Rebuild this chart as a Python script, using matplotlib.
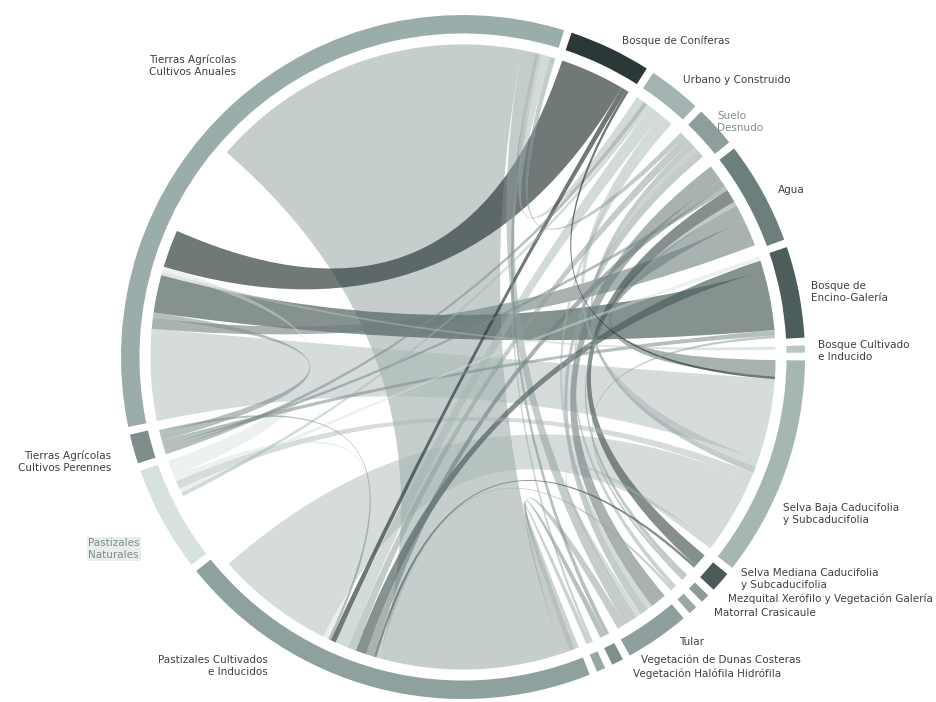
import numpy as np
import matplotlib
matplotlib.use("Agg")
import matplotlib.pyplot as plt
from matplotlib.path import Path
from matplotlib.patches import Wedge, PathPatch
from matplotlib.colors import to_rgb

# ---------------- data ----------------
keys = ["CON", "URB", "SUE", "AGU", "ENC", "BCU", "SBA", "SME", "MEZ",
        "MAT", "TUL", "DUN", "HAL", "PCU", "PNA", "PER", "ANU"]
labels = ["Bosque de Coníferas", "Urbano y Construido", "Suelo\nDesnudo", "Agua",
          "Bosque de\nEncino-Galería", "Bosque Cultivado\ne Inducido",
          "Selva Baja Caducifolia\ny Subcaducifolia",
          "Selva Mediana Caducifolia\ny Subcaducifolia",
          "Mezquital Xerófilo y Vegetación Galería", "Matorral Crasicaule", "Tular",
          "Vegetación de Dunas Costeras", "Vegetación Halófila Hidrófila",
          "Pastizales Cultivados\ne Inducidos", "Pastizales\nNaturales",
          "Tierras Agrícolas\nCultivos Perennes", "Tierras Agrícolas\nCultivos Anuales"]
totals = [14, 9, 7, 17.5, 15.5, 1.2, 37.5, 3.5, 1.5, 1.5, 11, 2, 1.5, 73, 18, 5, 119]

flow_src = ["CON", "CON", "CON", "URB", "PER", "URB", "URB", "URB", "URB", "SUE",
            "SUE", "MAT", "SUE", "AGU", "AGU", "AGU", "PER", "SME", "MEZ", "AGU",
            "PNA", "ENC", "ENC", "PER", "BCU", "SBA", "SBA", "SBA", "SBA", "SME",
            "MEZ", "MAT", "TUL", "TUL", "DUN", "DUN", "HAL", "HAL", "PCU", "PNA",
            "PNA", "PER", "PER", "SUE"]
flow_dst = ["ANU", "PCU", "SBA", "ANU", "URB", "PCU", "PNA", "SBA", "TUL", "ANU",
            "PCU", "SUE", "TUL", "TUL", "PCU", "ANU", "AGU", "AGU", "AGU", "SBA",
            "ENC", "PCU", "ANU", "ENC", "ANU", "ANU", "PNA", "PCU", "TUL", "PCU",
            "ENC", "PCU", "ANU", "PCU", "PCU", "ANU", "PCU", "ANU", "ANU", "PCU",
            "ANU", "ANU", "PCU", "SBA"]
value_src = [12, 1, 0.5, 1.5, 0.8, 2.5, 0.7, 1.5, 1, 1,
             1.5, 0.8, 1.5, 3, 1.5, 5, 0.8, 2.5, 0.8, 3,
             0.8, 2, 11, 1, 0.6, 15, 1.5, 13.5, 1, 0.5,
             0.5, 0.5, 2.5, 1.5, 1, 0.8, 0.8, 0.5, 34, 1,
             3, 1.5, 0.5, 1.2]
value_dst = [7, 1, 0.5, 1.5, 0.8, 2.5, 0.7, 1.5, 1, 1,
             1.5, 0.8, 1.5, 3, 1.5, 2, 0.8, 2.5, 0.8, 3,
             0.8, 2, 7, 1, 0.6, 17, 1.5, 22, 1, 0.5,
             0.5, 0.5, 2.5, 1.5, 1, 0.8, 0.8, 0.5, 60, 1,
             1, 1, 0.5, 1.2]
assert len(flow_src) == len(flow_dst) == len(value_src) == len(value_dst)

# order of link ends inside each sector (clockwise); REST = area without link
link_order = {
    "CON": ["ANU", "PCU", "SBA"],
    "URB": ["ANU", "PER", "PNA", "PCU", "SBA", "TUL"],
    "SUE": ["ANU", "PCU", "SBA", "MAT", "TUL"],
    "AGU": ["TUL", "PCU", "PER", "SME", "MEZ", "SBA", "ANU"],
    "ENC": ["PNA", "PCU", "ANU", "PER", "MEZ"],
    "BCU": ["ANU"],
    "SBA": ["AGU", "CON", "ANU", "URB", "SUE", "PNA", "PCU", "TUL"],
    "SME": ["AGU", "PCU"],
    "MEZ": ["AGU", "ENC"],
    "MAT": ["SUE", "PCU"],
    "TUL": ["AGU", "URB", "SUE", "SBA", "ANU", "PCU"],
    "DUN": ["ANU", "PCU"],
    "HAL": ["ANU", "PCU"],
    "PCU": ["HAL", "DUN", "TUL", "ANU", "MAT", "SME", "AGU", "ENC", "SUE", "URB",
            "CON", "PER", "PNA", "SBA"],
    "PNA": ["REST", "URB", "ENC", "SBA", "PCU", "ANU"],
    "PER": ["URB", "AGU", "ENC", "ANU", "PCU"],
    "ANU": ["SBA", "AGU", "PER", "ENC", "BCU", "PNA", "CON", "REST", "PCU", "TUL",
            "DUN", "HAL", "URB", "SUE"],
}

# ---------------- style ----------------
ring_colors = {
    "CON": "#2c3838", "URB": "#a2b3b1", "SUE": "#8d9e9c", "AGU": "#6d7f7d",
    "ENC": "#4c5d5b", "BCU": "#b9c6c4", "SBA": "#a5b6b3", "SME": "#4b5a58",
    "MEZ": "#8a9b99", "MAT": "#98a8a6", "TUL": "#8e9f9d", "DUN": "#7e8f8d",
    "HAL": "#97a7a5", "PCU": "#8fa19f", "PNA": "#d7e1df", "PER": "#7c8d8b",
    "ANU": "#9badab",
}
label_layout = {  # pixel positions of label anchors
    "CON": (622, 41, "left"), "URB": (683, 80, "left"), "SUE": (717, 122, "left"),
    "AGU": (778, 190, "left"), "ENC": (811, 292, "left"), "BCU": (818, 351, "left"),
    "SBA": (783, 514, "left"), "SME": (741, 579, "left"), "MEZ": (728, 599, "left"),
    "MAT": (714, 613, "left"), "TUL": (679, 642, "left"), "DUN": (641, 660, "left"),
    "HAL": (633, 674, "left"), "PCU": (268, 666, "right"), "PNA": (88, 549, "left"),
    "PER": (111, 462, "right"), "ANU": (236, 66, "right"),
}
W, H = 937, 702
CX, CY, RPX = 463, 357, 342
START = 71.5
R_OUT, R_IN, R_LINK = 1.0, 0.946, 0.914

fig = plt.figure(figsize=(W / 100, H / 100), dpi=100)
ax = fig.add_axes([0, 0, 1, 1])
ax.set_xlim(-CX / RPX, (W - CX) / RPX)
ax.set_ylim(-(H - CY) / RPX, CY / RPX)
ax.axis("off")


def px(x, y):
    return (x - CX) / RPX, (CY - y) / RPX


# sector layout (clockwise)
n = len(keys)
gap = (360 - sum(totals)) / n
sec_start = {}
a = START
for k, t in zip(keys, totals):
    sec_start[k] = a
    ax.add_patch(Wedge((0, 0), R_OUT, a - t, a, width=R_OUT - R_IN,
                       facecolor=ring_colors[k], edgecolor="none"))
    a -= t + gap

# link end positions
ends = {}
for k, t in zip(keys, totals):
    cur = sec_start[k]
    used = 0
    for i, (s, d) in enumerate(zip(flow_src, flow_dst)):
        if s == k:
            used += value_src[i]
        if d == k:
            used += value_dst[i]
    for p in link_order[k]:
        if p == "REST":
            cur -= t - used
            continue
        for i, (s, d) in enumerate(zip(flow_src, flow_dst)):
            if s == k and d == p:
                w = value_src[i]
                ends[(i, "s")] = (cur, cur - w)
                cur -= w
            elif d == k and s == p:
                w = value_dst[i]
                ends[(i, "d")] = (cur, cur - w)
                cur -= w


def arc(a1, a2, r):
    t = np.radians(np.linspace(a1, a2, max(3, int(abs(a1 - a2) * 2) + 3)))
    return list(zip(r * np.cos(t), r * np.sin(t)))


def ribbon(a1, a2, b1, b2, r):
    A = arc(a1, a2, r)
    B = arc(b1, b2, r)
    verts = A + [(0, 0), B[0]] + B[1:] + [(0, 0), A[0], A[0]]
    codes = ([Path.MOVETO] + [Path.LINETO] * (len(A) - 1) + [Path.CURVE3] * 2 +
             [Path.LINETO] * (len(B) - 1) + [Path.CURVE3] * 2 + [Path.CLOSEPOLY])
    return Path(verts, codes)


order = sorted(range(len(flow_src)), key=lambda i: -(value_src[i] + value_dst[i]))
for i in order:
    a1, a2 = ends[(i, "s")]
    b1, b2 = ends[(i, "d")]
    col = ring_colors[flow_src[i]]
    lum = np.mean(to_rgb(col))
    alpha = float(np.clip(0.5 + 0.6 * (0.63 - lum), 0.45, 0.68))
    ax.add_patch(PathPatch(ribbon(a1, a2, b1, b2, R_LINK), facecolor=col,
                           edgecolor="none", alpha=alpha))

# labels
for k, lab in zip(keys, labels):
    x, y, ha = label_layout[k]
    color = "#7f8c8a" if k in ("SUE", "PNA") else "#3b4141"
    bbox = dict(facecolor="#e9eeed", edgecolor="none", pad=1.0) if k == "PNA" else None
    ax.text(*px(x, y), lab, ha=ha, va="center", multialignment=ha, fontsize=7.5,
            color=color, linespacing=1.2, bbox=bbox, family="DejaVu Sans")

fig.savefig("out.png", dpi=100, facecolor="white")
